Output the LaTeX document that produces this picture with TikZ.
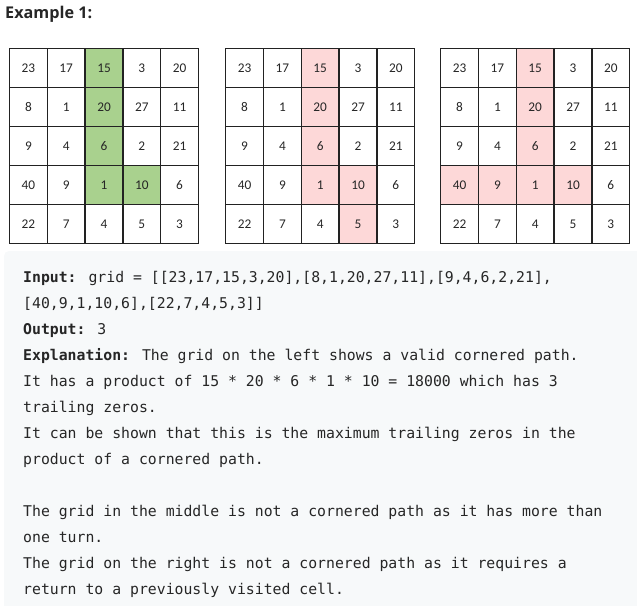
\documentclass[tikz,border=0pt]{standalone}
\usepackage{fontspec}
\setmainfont{DejaVu Sans}
\newfontfamily\cellfont{Carlito}
\newfontfamily\titlefont{Open Sans}
\newfontfamily\codefont{DejaVu Sans Mono}
\definecolor{pathgreen}{HTML}{A9D18E}
\definecolor{pathpink}{HTML}{FDD8D8}
\definecolor{panelbg}{HTML}{F7F9FA}
\definecolor{txt}{HTML}{262626}
\definecolor{gridline}{HTML}{222222}
\begin{document}
\begin{tikzpicture}[x=1pt,y=-1pt,
  cellbox/.style={minimum width=37.8pt,minimum height=39pt,inner sep=0pt,outer sep=0pt,
    font=\cellfont\fontsize{13.3}{13.3}\selectfont,text=txt},
  codeline/.style={anchor=base west,inner sep=0pt,font=\codefont\fontsize{14.8}{14.8}\selectfont,text=txt},
  gridrule/.style={draw=gridline,line width=1.5pt,line cap=rect},
  L13/.style={fill=pathgreen},L23/.style={fill=pathgreen},L33/.style={fill=pathgreen},
  L43/.style={fill=pathgreen},L44/.style={fill=pathgreen},
  M13/.style={fill=pathpink},M23/.style={fill=pathpink},M33/.style={fill=pathpink},
  M43/.style={fill=pathpink},M44/.style={fill=pathpink},M54/.style={fill=pathpink},
  R13/.style={fill=pathpink},R23/.style={fill=pathpink},R33/.style={fill=pathpink},
  R41/.style={fill=pathpink},R42/.style={fill=pathpink},R43/.style={fill=pathpink},R44/.style={fill=pathpink}
]
\useasboundingbox (0,0) rectangle (637,605);
\fill[panelbg,rounded corners=5pt] (4,251) rectangle (660,630);

\node[anchor=base west,inner sep=0pt,font=\titlefont\bfseries\fontsize{16.2}{16.2}\selectfont,text=txt] (title) at (5,19) {Example 1:};

\foreach \g/\xo in {L/9.5,M/225.7,R/440.7}{
  \foreach \r/\row in {1/{23,17,15,3,20},2/{8,1,20,27,11},3/{9,4,6,2,21},4/{40,9,1,10,6},5/{22,7,4,5,3}}{
    \foreach \v [count=\c] in \row {
      \node[cellbox,\g\r\c/.try] (\g-\r-\c) at ({\xo+(\c-0.5)*37.8},{48.5+(\r-0.5)*39}) {\v};
    }
  }
  \foreach \i in {0,...,5}{
    \draw[gridrule] ({\xo+\i*37.8},48.5) -- ({\xo+\i*37.8},243.5);
    \draw[gridrule] (\xo,{48.5+\i*39}) -- ({\xo+5*37.8},{48.5+\i*39});
  }
}

\node[codeline] (l1) at (23,282) {\textbf{Input:} grid = [[23,17,15,3,20],[8,1,20,27,11],[9,4,6,2,21],};
\node[codeline] (l2) at (23,308) {[40,9,1,10,6],[22,7,4,5,3]]};
\node[codeline] (l3) at (23,334) {\textbf{Output:} 3};
\node[codeline] (l4) at (23,360) {\textbf{Explanation:} The grid on the left shows a valid cornered path.};
\node[codeline] (l5) at (23,386) {It has a product of 15 * 20 * 6 * 1 * 10 = 18000 which has 3};
\node[codeline] (l6) at (23,412) {trailing zeros.};
\node[codeline] (l7) at (23,438) {It can be shown that this is the maximum trailing zeros in the};
\node[codeline] (l8) at (23,464) {product of a cornered path.};
\node[codeline] (l9) at (23,516) {The grid in the middle is not a cornered path as it has more than};
\node[codeline] (l10) at (23,542) {one turn.};
\node[codeline] (l11) at (23,568) {The grid on the right is not a cornered path as it requires a};
\node[codeline] (l12) at (23,594) {return to a previously visited cell.};
\end{tikzpicture}
\end{document}
